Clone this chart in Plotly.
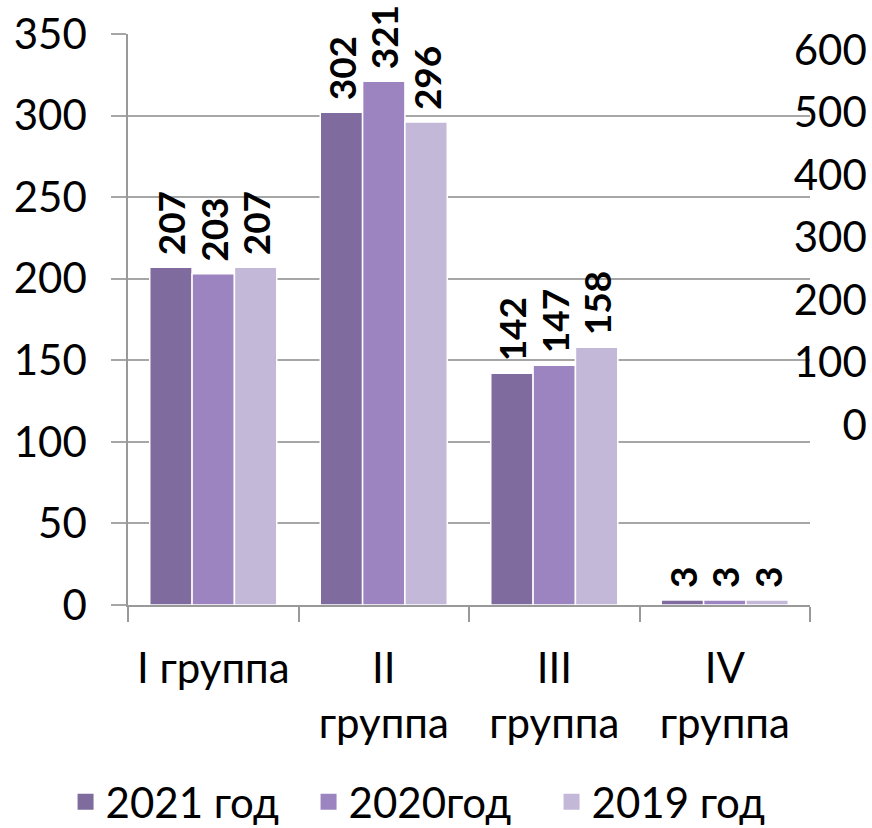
import plotly.graph_objects as go

categories = ["I группа", "II<br>группа", "III<br>группа", "IV<br>группа"]
series_names = ["2021 год", "2020год", "2019 год"]
values_2021 = [207, 302, 142, 3]
values_2020 = [203, 321, 147, 3]
values_2019 = [207, 296, 158, 3]
right_ticks = [0, 100, 200, 300, 400, 500, 600]

colors = ["#7F6B9E", "#9C84C0", "#C4B8D9"]
FONT = "Lato, 'Open Sans', sans-serif"

fig = go.Figure()

for name, vals, col in zip(series_names, [values_2021, values_2020, values_2019], colors):
    fig.add_trace(go.Bar(
        x=categories,
        y=vals,
        name=name,
        showlegend=False,
        marker=dict(color=col, line=dict(color="white", width=1.5)),
        # leading nbsp keeps the rotated label off the bar top
        text=["\u00a0" + str(v) for v in vals],
        textposition="outside",
        textangle=-90,
        textfont=dict(family=FONT, size=37, color="black", weight="bold"),
        cliponaxis=False,
        constraintext="none",
        hoverinfo="skip",
    ))
    # legend proxy with a bigger square
    fig.add_trace(go.Scatter(
        x=[categories[0]],
        y=[None],
        mode="markers",
        name=name,
        marker=dict(symbol="square", size=22, color=col),
    ))

# dummy trace so the secondary axis gets drawn
fig.add_trace(go.Scatter(x=[categories[0]], y=[None], yaxis="y2", mode="markers", showlegend=False))

fig.update_layout(
    width=872,
    height=840,
    margin=dict(l=128, r=0, t=34, b=235),
    plot_bgcolor="white",
    paper_bgcolor="white",
    font=dict(family=FONT, size=42, color="black"),
    barmode="group",
    bargap=0.255,
    bargroupgap=0,
    xaxis=dict(
        domain=[0, 0.9167],
        type="category",
        tickson="boundaries",
        ticks="outside",
        ticklen=15,
        tickwidth=1.5,
        tickcolor="#999999",
        showline=True,
        linecolor="#999999",
        linewidth=1.5,
        showgrid=False,
        ticklabelstandoff=26,
        tickfont=dict(size=42),
        automargin=False,
    ),
    yaxis=dict(
        range=[0, 350],
        dtick=50,
        showgrid=True,
        gridcolor="#A6A6A6",
        gridwidth=1.5,
        ticks="outside",
        ticklen=15,
        tickwidth=1.5,
        tickcolor="#A6A6A6",
        showline=True,
        linecolor="#999999",
        linewidth=1.5,
        zeroline=False,
        ticklabelstandoff=16,
        tickfont=dict(size=42),
        automargin=False,
    ),
    yaxis2=dict(
        overlaying="y",
        anchor="free",
        position=0.993,
        side="left",
        range=[-288, 625.6],
        tickvals=right_ticks,
        showgrid=False,
        zeroline=False,
        showline=False,
        ticks="",
        tickfont=dict(size=42),
        automargin=False,
    ),
    legend=dict(
        orientation="h",
        x=0.406,
        xanchor="center",
        y=-0.345,
        yanchor="middle",
        font=dict(size=42),
        itemsizing="trace",
        entrywidth=198,
    ),
)

# drop the default page margin so the figure sits at the window corner
fig.write_html(
    "out.html",
    config={"displayModeBar": False},
    post_script="document.body.style.margin='0';",
)
